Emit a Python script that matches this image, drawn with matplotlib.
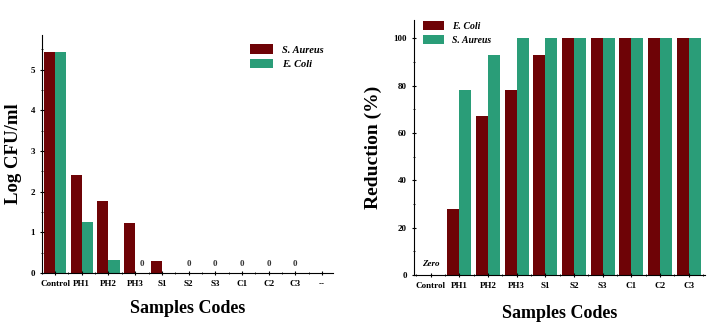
import numpy as np
import matplotlib.pyplot as plt
from matplotlib.ticker import MultipleLocator

plt.rcParams['font.family'] = ['Liberation Serif', 'DejaVu Serif']
plt.rcParams['font.weight'] = 'bold'

# ---- data ----
left_codes = ["Control", "PH1", "PH2", "PH3", "S1", "S2", "S3", "C1", "C2", "C3", "--"]
log_aureus = [5.43, 2.42, 1.78, 1.23, 0.30, 0, 0, 0, 0, 0, 0]
log_coli = [5.43, 1.26, 0.32, 0, 0, 0, 0, 0, 0, 0, 0]
zero_idx = [3.25, 5, 6, 7, 8, 9]

right_codes = ["Control", "PH1", "PH2", "PH3", "S1", "S2", "S3", "C1", "C2", "C3"]
red_coli = [0, 28, 67, 78, 93, 100, 100, 100, 100, 100]
red_aureus = [0, 78, 93, 100, 100, 100, 100, 100, 100, 100]

maroon = "#6e0306"
green = "#2a9d78"
w = 0.42

fig = plt.figure(figsize=(7.2, 3.25), dpi=100)

# ---- left panel ----
ax1 = fig.add_axes([0.058, 0.16, 0.404, 0.732])
x = np.arange(len(left_codes))
ax1.bar(x - w / 2, log_aureus, w, color=maroon, label="S. Aureus")
ax1.bar(x + w / 2, log_coli, w, color=green, label="E. Coli")
for i in zero_idx:
    ax1.text(i, 0.12, "0", ha="center", va="bottom", fontsize=6.5, color="#333333")
ax1.set_xlim(-0.5, 10.4)
ax1.set_ylim(0, 5.85)
ax1.set_xticks(x)
ax1.set_xticklabels(left_codes, fontsize=6.5)
ax1.xaxis.set_minor_locator(MultipleLocator(0.5))
ax1.set_yticks(range(6))
ax1.yaxis.set_minor_locator(MultipleLocator(0.5))
ax1.tick_params(labelsize=6.5, length=3, direction="inout")
ax1.tick_params(which="minor", length=2, direction="inout")
ax1.set_ylabel("Log CFU/ml", fontsize=13.5, fontweight="bold")
ax1.set_xlabel("Samples Codes", fontsize=13, fontweight="bold")
ax1.yaxis.set_label_coords(-0.069, 0.5)
ax1.xaxis.set_label_coords(0.5, -0.115)
for s in ["top", "right"]:
    ax1.spines[s].set_visible(False)
ax1.legend(loc="upper right", bbox_to_anchor=(1.0, 1.0), frameon=False,
           prop={"style": "italic", "weight": "bold", "size": 7.5},
           handlelength=2.2, handleheight=1.0, labelspacing=0.4)

# ---- right panel ----
ax2 = fig.add_axes([0.575, 0.154, 0.404, 0.784])
x2 = np.arange(len(right_codes))
ax2.bar(x2 - w / 2, red_coli, w, color=maroon, label="E. Coli")
ax2.bar(x2 + w / 2, red_aureus, w, color=green, label="S. Aureus")
ax2.text(0, 3, "Zero", ha="center", va="bottom", fontsize=6.5, style="italic")
ax2.set_xlim(-0.58, 9.56)
ax2.set_ylim(0, 107.6)
ax2.set_xticks(x2)
ax2.set_xticklabels(right_codes, fontsize=6.5)
ax2.xaxis.set_minor_locator(MultipleLocator(0.5))
ax2.set_yticks(range(0, 101, 20))
ax2.yaxis.set_minor_locator(MultipleLocator(10))
ax2.tick_params(labelsize=6.5, length=3, direction="inout")
ax2.tick_params(which="minor", length=2, direction="inout")
ax2.set_ylabel("Reduction (%)", fontsize=14, fontweight="bold")
ax2.set_xlabel("Samples Codes", fontsize=13, fontweight="bold")
ax2.yaxis.set_label_coords(-0.11, 0.5)
ax2.xaxis.set_label_coords(0.5, -0.118)
for s in ["top", "right"]:
    ax2.spines[s].set_visible(False)
ax2.legend(loc="upper left", bbox_to_anchor=(0.0, 1.03), frameon=False,
           prop={"style": "italic", "weight": "bold", "size": 7},
           handlelength=2.2, handleheight=1.0, labelspacing=0.4)

fig.savefig("out.png", dpi=100)
